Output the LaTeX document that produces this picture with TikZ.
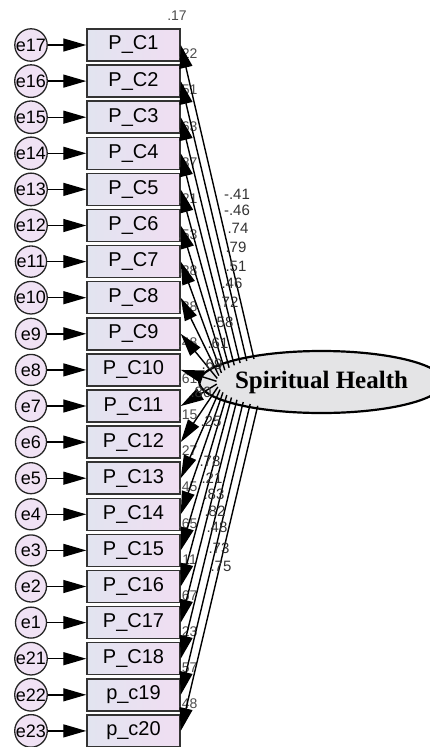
\documentclass[tikz,border=0pt]{standalone}
\usepackage{fontspec}
\setmainfont{Liberation Serif}
\setsansfont{Liberation Sans}
\usetikzlibrary{arrows.meta,shapes.geometric}

\definecolor{boxl}{RGB}{226,228,240}
\definecolor{boxr}{RGB}{240,222,242}
\definecolor{errc}{RGB}{240,226,244}
\definecolor{latc}{RGB}{228,228,230}

\begin{document}
\begin{tikzpicture}[x=1pt,y=-1pt,
  ind/.style={draw=black!80,line width=1.5pt,minimum width=93pt,minimum height=32pt,
    inner sep=0pt,left color=boxl,right color=boxr,font=\sffamily\fontsize{20}{20}\selectfont},
  err/.style={circle,draw=black!85,line width=1.3pt,fill=errc,minimum size=31pt,
    inner sep=0pt,font=\sffamily\fontsize{18}{18}\selectfont},
  lat/.style={ellipse,draw=black,line width=2.2pt,fill=latc,minimum width=213pt,
    minimum height=62pt,inner sep=0pt,font=\bfseries\fontsize{25}{25}\selectfont},
  rsq/.style={font=\sffamily\fontsize{14}{14}\selectfont,text=black!70,inner sep=0pt},
  est/.style={font=\sffamily\fontsize{15}{15}\selectfont,text=black!80,inner sep=0pt},
  tip/.style={-{Triangle[length=23pt,width=13pt]},line width=1.4pt}]
  \useasboundingbox (0,0) rectangle (430,747);

  % indicators with their error terms
  \foreach \lab/\e/\r [count=\i] in {P\_C1/e17/.22,P\_C2/e16/.51,P\_C3/e15/.63,
      P\_C4/e14/.37,P\_C5/e13/.21,P\_C6/e12/.53,P\_C7/e11/.38,P\_C8/e10/.38,
      P\_C9/e9/.48,P\_C10/e8/.61,P\_C11/e7/.15,P\_C12/e6/.27,P\_C13/e5/.45,
      P\_C14/e4/.65,P\_C15/e3/.11,P\_C16/e2/.67,P\_C17/e1/.23,P\_C18/e21/.57,
      p\_c19/e22/.48,p\_c20/e23/{}}{
    \node[ind] (pc\i) at (133.5,{45+(\i-1)*36.1}) {\lab};
    \node[err] (e\i) at (31,{45+(\i-1)*36.1}) {\e};
    \node[rsq] (r\i) at ([shift={(7,9)}]pc\i.east) {\r};
    \draw[tip] (e\i) -- (pc\i);
  }
  \node[rsq] (top) at (177,16) {.17};

  \node[lat] (sh) at (321.5,382) {Spiritual Health};
  % fan of loadings out of the left side of the ellipse
  \foreach \i in {1,...,20}{
    \pgfmathsetmacro\a{130+(\i-1)*5.4}
    \coordinate (o\i) at ([shift={({105*cos(\a)},{-30*sin(\a)})}]sh.center);
    \draw[tip] (o\i) -- (pc\i.east);
  }

  % standardized loadings
  \foreach \v/\x/\y [count=\k] in {-.41/237/194,-.46/237/210,.74/238/228,.79/236/247,
      .51/236/266,.46/232/283,.72/228/302,.58/223/322,.61/218/343,.69/212/364,
      .80/201/392,.25/211/421,.78/210/461,.21/212/478,.83/214/494,.82/215/511,
      .48/217/527,.73/219/548,.75/221/566}
    \node[est] (l\k) at (\x,\y) {\v};
\end{tikzpicture}
\end{document}
